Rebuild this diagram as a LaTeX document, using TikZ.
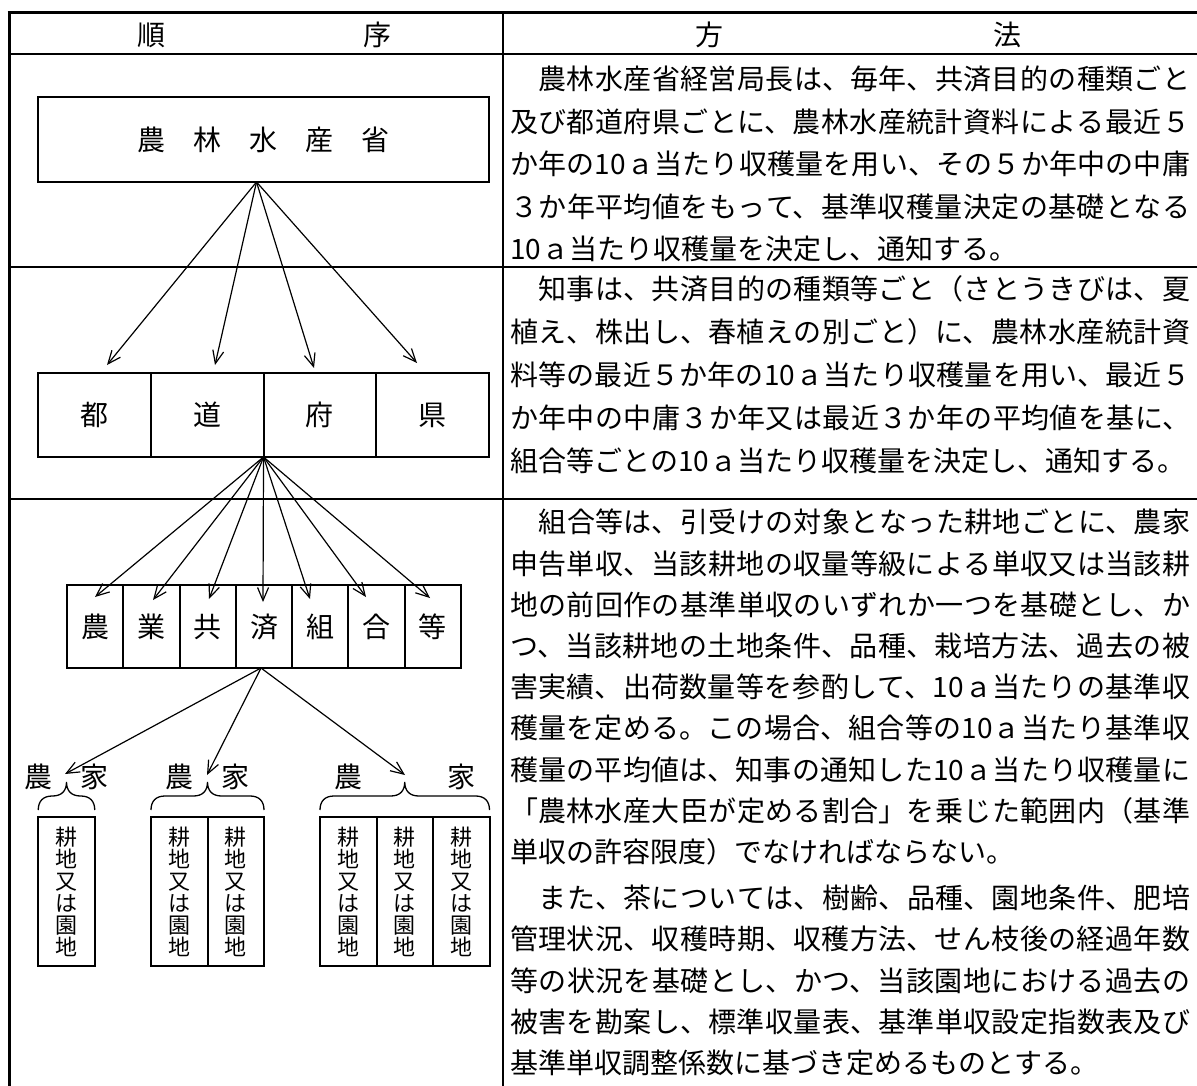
\documentclass[tikz,border=0pt]{standalone}
\usepackage{fontspec}
\setmainfont{Noto Sans CJK JP}
\usetikzlibrary{positioning}
\usetikzlibrary{arrows.meta,calc}
\XeTeXlinebreaklocale "ja"
\XeTeXlinebreakskip=0pt plus 2pt
\tikzstyle{flow edge}=[-{Straight Barb[length=13pt,width=11pt]},line width=1.2pt]
\tikzstyle{table rule}=[line width=2.3pt]
\tikzstyle{outer rule}=[line width=3pt]
\tikzstyle{brace line}=[line width=1.3pt]
\tikzstyle{cell}=[draw,line width=2pt,inner sep=0pt,outer sep=0pt,font=\fontsize{28}{28}\selectfont]
\tikzstyle{head}=[inner sep=0pt,font=\fontsize{28}{28}\selectfont]
\tikzstyle{method}=[anchor=north west,inner sep=0pt,text width=680pt,align=justify]
\newcommand{\cellnode}[3][]{
  \node [cell, #1] (#2) {#3}
}
\newcommand{\plotnode}[2][]{
  \node [cell, minimum width=56.5pt, minimum height=149pt,
    font=\fontsize{22}{22}\selectfont, #1] (#2)
    {\parbox{30pt}{\centering\lineskiplimit=-50pt 耕\\地\\又\\は\\園\\地\par}}
}

\begin{document}
\begin{tikzpicture}[x=1pt,y=-1pt,node distance=0pt]
  \useasboundingbox (0,0) rectangle (1197,1086);
  % table frame
  \draw[outer rule] (7.5,13) -- (1200,13);
  \draw[outer rule] (9,11.5) -- (9,1090);
  \draw[table rule] (9,54) -- (1200,54);
  \draw[table rule] (503,13) -- (503,1090);
  \draw[table rule] (9,267) -- (1200,267);
  \draw[table rule] (9,499) -- (1200,499);

  \node[head] (seq1) at (151,35) {順};
  \node[head] (seq2) at (377,35) {序};
  \node[head] (way1) at (709,35) {方};
  \node[head] (way2) at (1007,35) {法};

  % order column
  \cellnode[minimum width=451pt, minimum height=85pt, at={(263.5,139.5)}]{maff}{農　林　水　産　省};

  \cellnode[minimum width=112.75pt, minimum height=84pt, at={(94.4,415)}]{to}{都};
  \cellnode[minimum width=112.75pt, minimum height=84pt, right=of to]{dou}{道};
  \cellnode[minimum width=112.75pt, minimum height=84pt, right=of dou]{fu}{府};
  \cellnode[minimum width=112.75pt, minimum height=84pt, right=of fu]{ken}{県};

  \cellnode[minimum width=56.3pt, minimum height=83pt, at={(95.1,626.5)}]{nou}{農};
  \cellnode[minimum width=56.3pt, minimum height=83pt, right=of nou]{gyo}{業};
  \cellnode[minimum width=56.3pt, minimum height=83pt, right=of gyo]{kyo}{共};
  \cellnode[minimum width=56.3pt, minimum height=83pt, right=of kyo]{sai}{済};
  \cellnode[minimum width=56.3pt, minimum height=83pt, right=of sai]{kumi}{組};
  \cellnode[minimum width=56.3pt, minimum height=83pt, right=of kumi]{go}{合};
  \cellnode[minimum width=56.3pt, minimum height=83pt, right=of go]{tou}{等};

  \plotnode[at={(66.5,891.5)}]{g1};
  \plotnode[at={(179.25,891.5)}]{g2a};
  \plotnode[right=of g2a]{g2b};
  \plotnode[at={(348.25,891.5)}]{g3a};
  \plotnode[right=of g3a]{g3b};
  \plotnode[right=of g3b]{g3c};

  \node[head] (f1a) at ([yshift=40pt]g1.north west) {農};
  \node[head] (f1b) at ([yshift=40pt]g1.north east) {家};
  \node[head] (f2a) at ([yshift=40pt]g2a.north) {農};
  \node[head] (f2b) at ([yshift=40pt]g2b.north) {家};
  \node[head] (f3a) at ([yshift=40pt]g3a.north) {農};
  \node[head] (f3b) at ([yshift=40pt]g3c.north) {家};

  \foreach \l/\r in {g1/g1, g2a/g2b, g3a/g3c} {
    \coordinate (bl) at ([yshift=7pt]\l.north west);
    \coordinate (br) at ([yshift=7pt]\r.north east);
    \coordinate (bm) at ($(bl)!0.5!(br)$);
    \draw[brace line] (bl) .. controls +(0pt,9pt) and +(-9pt,0pt) .. ([shift={(14pt,14pt)}]bl)
      -- ([shift={(-14pt,14pt)}]bm) .. controls +(9pt,0pt) and +(0pt,-9pt) .. ([yshift=28pt]bm)
      .. controls +(0pt,-9pt) and +(-9pt,0pt) .. ([shift={(14pt,14pt)}]bm)
      -- ([shift={(-14pt,14pt)}]br) .. controls +(9pt,0pt) and +(0pt,9pt) .. (br);
  }

  % arrows
  \coordinate (s1) at ([xshift=-7pt]maff.south);
  \foreach \x/\y [count=\i] in {107/365,215/365,314/368,417/363}
    \coordinate (a\i) at (\x,\y);
  \foreach \i in {1,...,4}
    \draw[flow edge] (s1) -- (a\i);

  \coordinate (s2) at (dou.south east);
  \foreach \x/\y [count=\i] in {95/597,153/600,209/599,263/602,310/599,366/597,430/598}
    \coordinate (b\i) at (\x,\y);
  \foreach \i in {1,...,7}
    \draw[flow edge] (s2) -- (b\i);

  \coordinate (s3) at ([xshift=-3pt]sai.south);
  \foreach \x/\y [count=\i] in {65/774,207/775,405/775}
    \coordinate (c\i) at (\x,\y);
  \foreach \i in {1,...,3}
    \draw[flow edge] (s3) -- (c\i);

  % method column
  \node[method, font=\fontsize{28}{42.5}\selectfont] (m1) at (510,66) {\parindent=0pt
　農林水産省経営局長は、毎年、共済目的の種類ごと\linebreak
及び都道府県ごとに、農林水産統計資料による最近５\linebreak
か年の10ａ当たり収穫量を用い、その５か年中の中庸\linebreak
３か年平均値をもって、基準収穫量決定の基礎となる\linebreak
10ａ当たり収穫量を決定し、通知する。};

  \node[method, font=\fontsize{28}{43}\selectfont] (m2) at (510,275) {\parindent=0pt
　知事は、共済目的の種類等ごと（さとうきびは、夏\linebreak
植え、株出し、春植えの別ごと）に、農林水産統計資\linebreak
料等の最近５か年の10ａ当たり収穫量を用い、最近５\linebreak
か年中の中庸３か年又は最近３か年の平均値を基に、\linebreak
組合等ごとの10ａ当たり収穫量を決定し、通知する。};

  \node[method, font=\fontsize{28}{41.2}\selectfont] (m3) at (510,509) {\parindent=0pt\parskip=5pt
　組合等は、引受けの対象となった耕地ごとに、農家\linebreak
申告単収、当該耕地の収量等級による単収又は当該耕\linebreak
地の前回作の基準単収のいずれか一つを基礎とし、か\linebreak
つ、当該耕地の土地条件、品種、栽培方法、過去の被\linebreak
害実績、出荷数量等を参酌して、10ａ当たりの基準収\linebreak
穫量を定める。この場合、組合等の10ａ当たり基準収\linebreak
穫量の平均値は、知事の通知した10ａ当たり収穫量に\linebreak
「農林水産大臣が定める割合」を乗じた範囲内（基準\linebreak
単収の許容限度）でなければならない。\par
　また、茶については、樹齢、品種、園地条件、肥培\linebreak
管理状況、収穫時期、収穫方法、せん枝後の経過年数\linebreak
等の状況を基礎とし、かつ、当該園地における過去の\linebreak
被害を勘案し、標準収量表、基準単収設定指数表及び\linebreak
基準単収調整係数に基づき定めるものとする。};
\end{tikzpicture}
\end{document}
